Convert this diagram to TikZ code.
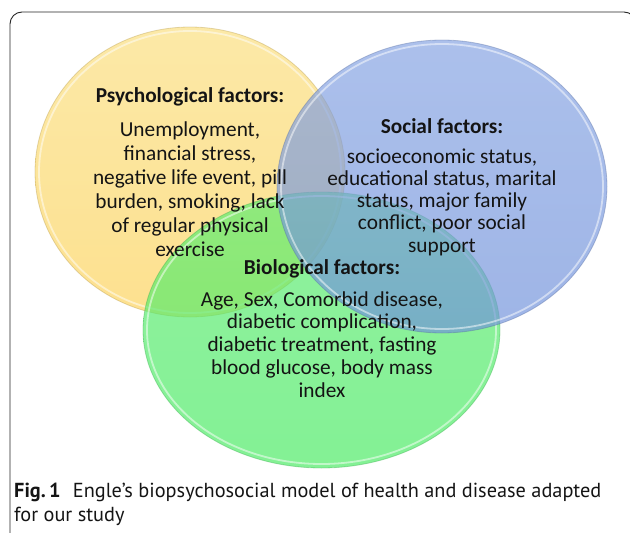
\documentclass[tikz,border=0pt]{standalone}
\usepackage{fontspec}
\setmainfont{Carlito}
\newfontfamily\capfont{PT Sans}
\usetikzlibrary{shapes.geometric}
\definecolor{yelTop}{RGB}{250,222,125}
\definecolor{yelBot}{RGB}{252,210,90}
\definecolor{bluTop}{RGB}{132,162,226}
\definecolor{bluBot}{RGB}{112,145,218}
\definecolor{grnTop}{RGB}{92,236,112}
\definecolor{grnBot}{RGB}{72,234,98}
\definecolor{txt}{RGB}{20,20,20}
\begin{document}
\begin{tikzpicture}[x=1pt,y=-1pt,
  venn/.style={ellipse, inner sep=0pt, outer sep=0pt, fill opacity=0.68,
    draw opacity=0.35, line width=0.8pt},
  rim/.style={draw=white, line width=1.8pt, draw opacity=0.5},
  ttl/.style={font=\bfseries\fontsize{21.3}{24}\selectfont, inner sep=0pt, anchor=base, text=txt},
  body/.style={font=\fontsize{21.3}{#1}\selectfont, align=center, inner sep=0pt, anchor=base, text=txt},
  captext/.style={font=\capfont\fontsize{20.3}{24}\selectfont, inner sep=0pt, anchor=base west, text=txt}]
\useasboundingbox (0,0) rectangle (630,533);
\begin{scope}
\clip (0,0) rectangle (630,533);
\draw[line width=0.9pt, rounded corners=12pt, draw=black!85] (10,12) rectangle (636,560);
\end{scope}
% ellipses
\node[venn, minimum width=310pt, minimum height=290pt, top color=yelTop, bottom color=yelBot, draw=yelBot!70!black] (psy) at (190,172) {};
\draw[rim] (psy.center) ellipse [x radius=151pt, y radius=141pt];
\node[venn, minimum width=357pt, minimum height=276pt, top color=grnTop, bottom color=grnBot, draw=grnBot!70!black] (bio) at (321.5,330) {};
\draw[rim] (bio.center) ellipse [x radius=174.5pt, y radius=134pt];
\node[venn, minimum width=330pt, minimum height=293pt, top color=bluTop, bottom color=bluBot, draw=bluBot!70!black] (soc) at (442,186.5) {};
\draw[rim] (soc.center) ellipse [x radius=161pt, y radius=142.5pt];
% texts
\node[ttl] (psyT) at (190,102) {Psychological factors:};
\node[body=24] (psyB) at (190,256) {Unemployment,\\financial stress,\\negative life event, pill\\burden, smoking, lack\\of regular physical\\exercise};
\node[ttl] (socT) at (442,133) {Social factors:};
\node[body=22.3] (socB) at (442,252.2) {socioeconomic status,\\educational status, marital\\status, major family\\conflict, poor social\\support};
\node[ttl] (bioT) at (322,274) {Biological factors:};
\node[body=22.8] (bioB) at (322,397.2) {Age, Sex, Comorbid disease,\\diabetic complication,\\diabetic treatment, fasting\\blood glucose, body mass\\index};
% caption
\node[captext] (cap1) at (14,497) {\textbf{Fig.\,1}\hspace{0.6em}Engle’s biopsychosocial model of health and disease adapted};
\node[captext] (cap2) at (14,521) {for our study};
\end{tikzpicture}
\end{document}
